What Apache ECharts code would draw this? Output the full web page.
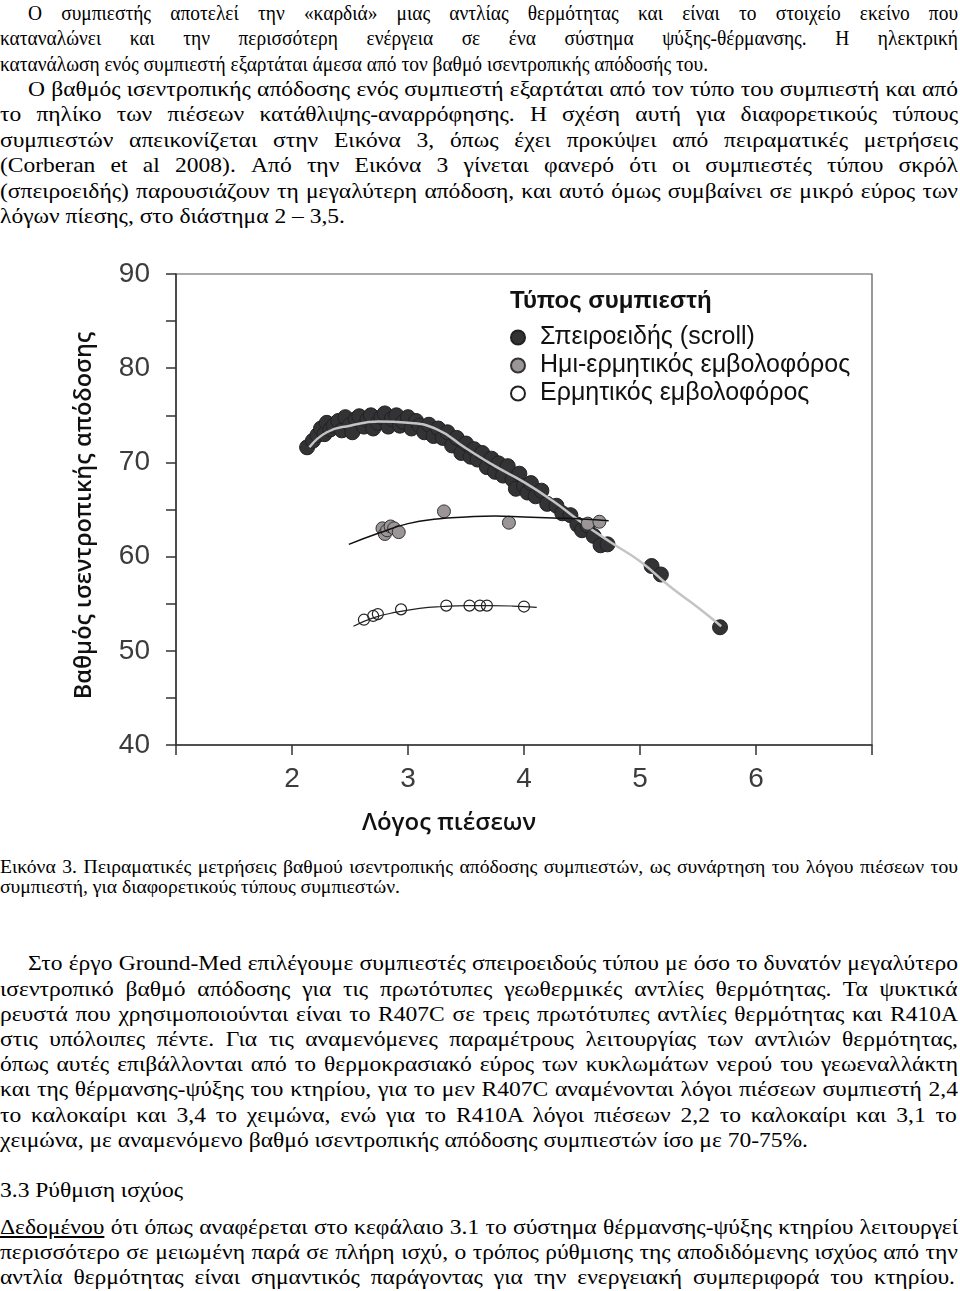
<!DOCTYPE html>
<html>
<head>
<meta charset="utf-8">
<script src="https://cdn.jsdelivr.net/npm/echarts@6/dist/echarts.min.js"></script>
<style>
html,body{margin:0;padding:0;background:#fff;}
#page{position:relative;width:960px;height:1291px;overflow:hidden;background:#fff;}
.ln{position:absolute;white-space:nowrap;color:#000;transform-origin:0 0;}
#chart{position:absolute;left:0;top:240px;width:960px;height:600px;}
</style>
</head>
<body>
<div id="page"><div id="chart"></div></div>
<script>
// ---------- chart data ----------
const xLabelValues = [2, 3, 4, 5, 6];
const yLabelValues = [40, 50, 60, 70, 80, 90];

const scrollX = [2.13,2.18,2.22,2.25,2.28,2.30,2.33,2.36,2.40,2.43,2.46,2.50,2.52,2.55,2.58,2.62,2.65,2.68,2.70,2.74,2.77,2.80,2.83,2.86,2.90,2.93,2.96,3.00,3.03,3.07,3.10,3.14,3.18,3.22,3.26,3.30,3.34,3.38,3.42,3.46,3.50,3.54,3.57,3.60,3.64,3.68,3.72,3.75,3.78,3.82,3.86,3.90,3.93,3.96,4.00,4.03,4.06,4.10,4.15,4.20,4.28,4.33,4.40,4.46,4.50,4.55,4.60,4.66,4.72,5.10,5.18,5.69];
const scrollY = [71.6,72.3,72.9,73.6,73.0,74.2,73.5,73.9,74.4,73.4,74.8,74.0,73.2,74.6,74.9,73.8,74.5,75.0,73.6,74.2,74.8,75.2,73.8,74.6,75.0,73.9,74.3,74.8,73.6,74.4,73.9,73.2,74.0,72.8,73.6,72.6,73.2,71.8,72.6,71.0,72.0,70.6,71.4,70.3,71.0,69.5,70.4,69.0,69.9,68.6,69.6,68.2,67.2,68.8,67.5,66.8,67.8,66.4,67.0,65.6,65.4,64.6,64.4,63.4,62.8,63.3,62.2,61.2,61.3,59.0,58.1,52.5];
const scrollFitX = [2.15,2.3,2.5,2.75,3.0,3.25,3.5,3.75,4.0,4.25,4.5,4.75,5.0,5.25,5.5,5.7];
const scrollFitY = [71.6,73.2,73.9,74.35,74.2,73.5,71.5,69.6,67.9,65.9,63.6,61.5,59.5,56.9,54.6,52.6];

const semiX = [2.78,2.80,2.82,2.85,2.88,2.92,3.31,3.87,4.55,4.65];
const semiY = [63.0,62.4,62.8,63.2,63.0,62.6,64.8,63.6,63.5,63.7];
const semiFitX = [2.49,2.75,3.0,3.25,3.5,3.75,4.0,4.25,4.5,4.73];
const semiFitY = [61.3,62.5,63.5,64.0,64.2,64.3,64.2,64.1,64.0,63.8];

const hermX = [2.62,2.70,2.74,2.94,3.33,3.53,3.62,3.68,4.00];
const hermY = [53.3,53.7,53.9,54.4,54.8,54.8,54.8,54.8,54.7];
const hermFitX = [2.53,2.7,2.9,3.1,3.3,3.5,3.7,3.9,4.11];
const hermFitY = [52.6,53.5,54.1,54.5,54.7,54.8,54.8,54.75,54.6];

const seriesNames = ['Σπειροειδής (scroll)', 'Ημι-ερμητικός εμβολοφόρος', 'Ερμητικός εμβολοφόρος'];
const legendTitle = 'Τύπος συμπιεστή';
const xName = 'Λόγος πιέσεων';
const yName = 'Βαθμός ισεντροπικής απόδοσης';

function pairs(xs, ys){ return xs.map((x,i)=>[x, ys[i]]); }

const chart = echarts.init(document.getElementById('chart'), null, {renderer:'canvas'});
const axisCol = '#333';
chart.setOption({
  animation:false,
  backgroundColor:'#fff',
  grid:{left:176, right:88, top:34, height:472, show:true, borderColor:'#555', borderWidth:1.2, backgroundColor:'transparent'},
  xAxis:{
    type:'value', min:1, max:7, interval:1,
    axisLine:{onZero:false, lineStyle:{color:axisCol, width:1.5}},
    axisTick:{length:10, lineStyle:{color:axisCol, width:1.5}},
    splitLine:{show:false},
    axisLabel:{formatter:v=>xLabelValues.includes(v)?String(v):'', fontSize:28, color:'#3c3c3c', fontFamily:'Liberation Sans', margin:20},
    name:xName, nameLocation:'middle', nameGap:66,
    nameTextStyle:{fontSize:24, fontFamily:'Open Sans', color:'#111', fontWeight:600, padding:[0,150,0,0]}
  },
  yAxis:{
    type:'value', min:40, max:90, interval:5,
    axisLine:{lineStyle:{color:axisCol, width:1.5}},
    axisTick:{length:10, lineStyle:{color:axisCol, width:1.5}},
    splitLine:{show:false},
    axisLabel:{formatter:v=>yLabelValues.includes(v)?String(v):'', fontSize:28, color:'#3c3c3c', fontFamily:'Liberation Sans', margin:26},
    name:yName, nameLocation:'middle', nameGap:80, nameRotate:90,
    nameTextStyle:{fontSize:23.5, fontFamily:'Open Sans', color:'#111', fontWeight:600, padding:[0,12,0,0]}
  },
  legend:{
    orient:'vertical', left:510, top:85, padding:0, itemGap:3,
    itemWidth:14, itemHeight:14, icon:'circle',
    data:seriesNames,
    textStyle:{fontSize:25, fontFamily:'Liberation Sans', color:'#111', padding:[0,0,0,10]}
  },
  graphic:[{type:'text', left:510, top:49, style:{text:legendTitle, fontSize:24, fontWeight:'bold', fontFamily:'Liberation Sans', fill:'#111'}}],
  series:[
    {name:seriesNames[0], type:'scatter', data:pairs(scrollX, scrollY), symbolSize:15,
     itemStyle:{color:'#333336', borderColor:'#222', borderWidth:1, opacity:1}, z:2},
    {name:'fit-scroll', type:'line', data:pairs(scrollFitX, scrollFitY), smooth:true, showSymbol:false,
     lineStyle:{color:'#c4c4c4', width:2.5}, z:3},
    {name:seriesNames[1], type:'scatter', data:pairs(semiX, semiY), symbolSize:13,
     itemStyle:{color:'#9b9597', borderColor:'#333', borderWidth:1, opacity:1}, z:4},
    {name:'fit-semi', type:'line', data:pairs(semiFitX, semiFitY), smooth:true, showSymbol:false,
     lineStyle:{color:'#111', width:1.5}, z:5},
    {name:seriesNames[2], type:'scatter', data:pairs(hermX, hermY), symbolSize:11,
     itemStyle:{color:'rgba(255,255,255,0)', borderColor:'#222', borderWidth:1.2, opacity:1}, z:4},
    {name:'fit-herm', type:'line', data:pairs(hermFitX, hermFitY), smooth:true, showSymbol:false,
     lineStyle:{color:'#222', width:1.2}, z:5}
  ]
});

// ---------- page text ----------
const para1Lines = [
  [28, 13, 'j', 'Ο συμπιεστής αποτελεί την «καρδιά» μιας αντλίας θερμότητας και είναι το στοιχείο εκείνο που'],
  [0, 38, 'j', 'καταναλώνει και την περισσότερη ενέργεια σε ένα σύστημα ψύξης-θέρμανσης. Η ηλεκτρική'],
  [0, 64, 708, 'κατανάλωση ενός συμπιεστή εξαρτάται άμεσα από τον βαθμό ισεντροπικής απόδοσής του.']
];
const para2Lines = [
  [28, 89, 'j', 'Ο βαθμός ισεντροπικής απόδοσης ενός συμπιεστή εξαρτάται από τον τύπο του συμπιεστή και από'],
  [0, 114, 'j', 'το πηλίκο των πιέσεων κατάθλιψης-αναρρόφησης. Η σχέση αυτή για διαφορετικούς τύπους'],
  [0, 140, 'j', 'συμπιεστών απεικονίζεται στην Εικόνα 3, όπως έχει προκύψει από πειραματικές μετρήσεις'],
  [0, 165, 'j', '(Corberan et al 2008). Από την Εικόνα 3 γίνεται φανερό ότι οι συμπιεστές τύπου σκρόλ'],
  [0, 191, 'j', '(σπειροειδής) παρουσιάζουν τη μεγαλύτερη απόδοση, και αυτό όμως συμβαίνει σε μικρό εύρος των'],
  [0, 216, 345, 'λόγων πίεσης, στο διάστημα 2 – 3,5.']
];
const captionLines = [
  [0, 868, 'j', 'Εικόνα 3. Πειραματικές μετρήσεις βαθμού ισεντροπικής απόδοσης συμπιεστών, ως συνάρτηση του λόγου πιέσεων του'],
  [0, 888, 400, 'συμπιεστή, για διαφορετικούς τύπους συμπιεστών.']
];
const bottomLines = [
  [28, 964, 'j', 'Στο έργο Ground-Med επιλέγουμε συμπιεστές σπειροειδούς τύπου με όσο το δυνατόν μεγαλύτερο'],
  [0, 990, 'j', 'ισεντροπικό βαθμό απόδοσης για τις πρωτότυπες γεωθερμικές αντλίες θερμότητας. Τα ψυκτικά'],
  [0, 1015, 'j', 'ρευστά που χρησιμοποιούνται είναι το R407C σε τρεις πρωτότυπες αντλίες θερμότητας και R410A'],
  [0, 1040, 'j', 'στις υπόλοιπες πέντε. Για τις αναμενόμενες παραμέτρους λειτουργίας των αντλιών θερμότητας,'],
  [0, 1065, 'j', 'όπως αυτές επιβάλλονται από το θερμοκρασιακό εύρος των κυκλωμάτων νερού του γεωεναλλάκτη'],
  [0, 1090, 'j', 'και της θέρμανσης-ψύξης του κτηρίου, για το μεν R407C αναμένονται λόγοι πιέσεων συμπιεστή 2,4'],
  [0, 1116, 'j', 'το καλοκαίρι και 3,4 το χειμώνα, ενώ για το R410A λόγοι πιέσεων 2,2 το καλοκαίρι και 3,1 το'],
  [0, 1141, 808, 'χειμώνα, με αναμενόμενο βαθμό ισεντροπικής απόδοσης συμπιεστών ίσο με 70-75%.'],
  [0, 1191, 183, '3.3 Ρύθμιση ισχύος'],
  [0, 1228, 'j', 'Δεδομένου ότι όπως αναφέρεται στο κεφάλαιο 3.1 το σύστημα θέρμανσης-ψύξης κτηρίου λειτουργεί'],
  [0, 1253, 'j', 'περισσότερο σε μειωμένη παρά σε πλήρη ισχύ, ο τρόπος ρύθμισης της αποδιδόμενης ισχύος από την'],
  [0, 1278, 955, 'αντλία θερμότητας είναι σημαντικός παράγοντας για την ενεργειακή συμπεριφορά του κτηρίου.']
];

const page = document.getElementById('page');
const cv = document.createElement('canvas').getContext('2d');
function measure(txt, fs){ cv.font = fs + 'px "Liberation Serif"'; return cv.measureText(txt).width; }

function placeBlock(lines, fs, refIdx){
  const ref = lines[refIdx];
  const s = (ref[2] - ref[0]) / measure(ref[3], fs);
  const lh = Math.round(fs * 1.15);
  lines.forEach(l => {
    const [x, yc, w, txt] = l;
    const right = (w === 'j') ? 958 : w;
    const target = (right - x) / s;
    const nat = measure(txt, fs);
    const nsp = (txt.match(/ /g) || []).length;
    const ws = nsp ? (target - nat) / nsp : 0;
    const d = document.createElement('div');
    d.className = 'ln';
    d.style.left = x + 'px';
    d.style.top = (yc - lh / 2 - 1) + 'px';
    d.style.font = fs + 'px "Liberation Serif"';
    d.style.lineHeight = lh + 'px';
    d.style.wordSpacing = ws + 'px';
    d.style.transform = 'scaleX(' + s + ')';
    if (txt.startsWith('Δεδομένου')) {
      d.innerHTML = '<span style="text-decoration:underline">Δεδομένου</span>' + txt.slice(9);
    } else {
      d.textContent = txt;
    }
    page.appendChild(d);
  });
}
placeBlock(para1Lines, 22, 2);
placeBlock(para2Lines, 22, 5);
placeBlock(captionLines, 18, 1);
placeBlock(bottomLines, 21, 7);
</script>
</body>
</html>
